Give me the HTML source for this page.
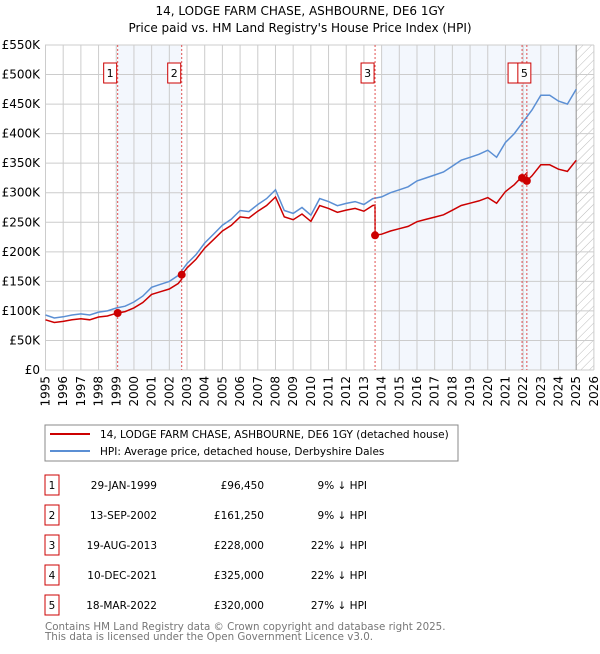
<!DOCTYPE html>
<html><head><meta charset="utf-8"><style>
body{margin:0;background:#fff;font-family:"DejaVu Sans","Liberation Sans",sans-serif;}
svg text{font-family:"DejaVu Sans","Liberation Sans",sans-serif;}
</style></head><body>
<svg id="chart" width="600" height="650" xmlns="http://www.w3.org/2000/svg">
<defs><pattern id="hatch" width="6" height="6" patternUnits="userSpaceOnUse" patternTransform="rotate(45)"><line x1="0" y1="0" x2="0" y2="6" stroke="#bbb" stroke-width="1"/></pattern></defs>
<text x="300" y="15" text-anchor="middle" font-size="12">14, LODGE FARM CHASE, ASHBOURNE, DE6 1GY</text>
<text x="300" y="32" text-anchor="middle" font-size="12">Price paid vs. HM Land Registry's House Price Index (HPI)</text>
<g id="bg"></g><g id="grid"></g><g id="axes"></g><g id="lines"></g><g id="marks"></g>
<rect x="45" y="425" width="413" height="36" fill="#fff" stroke="#888"/>
<line x1="50" y1="434" x2="90" y2="434" stroke="#cc0000" stroke-width="2"/>
<text x="100" y="438" font-size="10.5">14, LODGE FARM CHASE, ASHBOURNE, DE6 1GY (detached house)</text>
<line x1="50" y1="451" x2="90" y2="451" stroke="#5b8fd4" stroke-width="2"/>
<text x="100" y="455" font-size="10.5">HPI: Average price, detached house, Derbyshire Dales</text>
<g id="table"></g>
<text x="45" y="630" font-size="10.3" fill="#777">Contains HM Land Registry data © Crown copyright and database right 2025.</text>
<text x="45" y="640" font-size="10.3" fill="#777">This data is licensed under the Open Government Licence v3.0.</text>
</svg>
<script>
const years=[1995,1995.5,1996,1996.5,1997,1997.5,1998,1998.5,1999,1999.5,2000,2000.5,2001,2001.5,2002,2002.5,2003,2003.5,2004,2004.5,2005,2005.5,2006,2006.5,2007,2007.5,2008,2008.5,2009,2009.5,2010,2010.5,2011,2011.5,2012,2012.5,2013,2013.5,2014,2014.5,2015,2015.5,2016,2016.5,2017,2017.5,2018,2018.5,2019,2019.5,2020,2020.5,2021,2021.5,2022,2022.5,2023,2023.5,2024,2024.5,2025];
const hpi=[93,88,90,93,95,93,98,100,105,108,115,125,140,145,150,160,180,195,215,230,245,255,270,268,280,290,305,270,265,275,262,290,285,278,282,285,280,290,293,300,305,310,320,325,330,335,345,355,360,365,372,360,385,400,420,440,465,465,455,450,475];
const saleT=[1999.08,2002.7,2013.63,2021.94,2022.21];
const salePrice=[96450,161250,228000,325000,320000];
const saleLabels=["1","2","3","4","5"];
const saleDates=["29-JAN-1999","13-SEP-2002","19-AUG-2013","10-DEC-2021","18-MAR-2022"];
const salePriceText=["£96,450","£161,250","£228,000","£325,000","£320,000"];
const saleHpiText=["9% ↓ HPI","9% ↓ HPI","22% ↓ HPI","22% ↓ HPI","27% ↓ HPI"];
const yTicks=[0,50,100,150,200,250,300,350,400,450,500,550];
const xTicks=[1995,1996,1997,1998,1999,2000,2001,2002,2003,2004,2005,2006,2007,2008,2009,2010,2011,2012,2013,2014,2015,2016,2017,2018,2019,2020,2021,2022,2023,2024,2025,2026];
const NS="http://www.w3.org/2000/svg";
const X=t=>45.5+(t-1995)*17.69;
const Y=v=>370-v*0.5909;
function mk(p,tag,a){const e=document.createElementNS(NS,tag);for(const k in a)e.setAttribute(k,a[k]);document.getElementById(p).appendChild(e);return e;}
function hpiAt(t){for(let i=0;i<years.length-1;i++){if(t<=years[i+1]){const f=(t-years[i])/(years[i+1]-years[i]);return hpi[i]+f*(hpi[i+1]-hpi[i]);}}return hpi[hpi.length-1];}
let e;
e=mk('bg','rect',{x:45,y:45,width:550,height:325,fill:'#fff'});

e=mk('bg','rect',{x:X(saleT[0]),y:45,width:X(saleT[1])-X(saleT[0]),height:325,fill:'#eef3fc',opacity:0.7});

e=mk('bg','rect',{x:X(2014),y:45,width:X(2025)-X(2014),height:325,fill:'#eef3fc',opacity:0.7});

e=mk('bg','rect',{x:X(2025),y:45,width:X(2026)-X(2025),height:325,fill:'url(#hatch)'});

yTicks.forEach(v=>{
 e=mk('grid','line',{x1:45,x2:X(2026),y1:Y(v),y2:Y(v),stroke:'#ccc','stroke-width':1});
 
 e=mk('axes','text',{x:40,y:Y(v)+4,'text-anchor':'end','font-size':12});
 e.textContent=v===0?'£0':'£'+v+'K';
 
});
xTicks.forEach(t=>{
 e=mk('grid','line',{x1:X(t),x2:X(t),y1:45,y2:370,stroke:'#ccc','stroke-width':1});
 
 e=mk('axes','text',{x:0,y:0,'text-anchor':'end','font-size':12,transform:`translate(${X(t)+4},376) rotate(-90)`});
 e.textContent=t;
 
});
e=mk('grid','line',{x1:X(2025),x2:X(2025),y1:45,y2:370,stroke:'#999','stroke-width':1});

let d=years.map((t,i)=>(i?'L':'M')+X(t).toFixed(1)+','+Y(hpi[i]).toFixed(1)).join('');
e=mk('lines','path',{d:d,fill:'none',stroke:'#5b8fd4','stroke-width':1.5});

function ratioAt(t){let k=0;for(let i=0;i<saleT.length;i++)if(t>=saleT[i])k=i;return salePrice[k]/1000/hpiAt(saleT[k]);}
const pts=[];
const ts=years.slice();saleT.forEach(s=>{ts.push(s-0.001);ts.push(s);});ts.sort((a,b)=>a-b);
ts.forEach(t=>pts.push([X(t),Y(hpiAt(t)*ratioAt(t))]));
d=pts.map((p,i)=>(i?'L':'M')+p[0].toFixed(1)+','+p[1].toFixed(1)).join('');
e=mk('lines','path',{d:d,fill:'none',stroke:'#cc0000','stroke-width':1.5});

saleT.forEach((t,i)=>{
 e=mk('marks','line',{x1:X(t),x2:X(t),y1:45,y2:370,stroke:'#e05050','stroke-width':1,'stroke-dasharray':'2,2'});
 
 e=mk('marks','circle',{cx:X(t),cy:Y(salePrice[i]/1000),r:4,fill:'#cc0000'});
 
 const bx=i===4?X(t)-9:X(t)-14;
 e=mk('marks','rect',{x:bx,y:63,width:13,height:20,fill:'#fff',stroke:'#cc0000'});
 
 e=mk('marks','text',{x:bx+6.5,y:77,'text-anchor':'middle','font-size':11});
 e.textContent=i===3?'':saleLabels[i];
 
 const ry=485+i*30;
 e=mk('table','rect',{x:45,y:ry-10,width:14,height:20,fill:'#fff',stroke:'#cc0000'});
 
 e=mk('table','text',{x:52,y:ry+4,'text-anchor':'middle','font-size':10.5});e.textContent=saleLabels[i];
 
 e=mk('table','text',{x:157,y:ry+4,'text-anchor':'end','font-size':10.5});e.textContent=saleDates[i];
 
 e=mk('table','text',{x:264,y:ry+4,'text-anchor':'end','font-size':10.5});e.textContent=salePriceText[i];
 
 e=mk('table','text',{x:367,y:ry+4,'text-anchor':'end','font-size':10.5});e.textContent=saleHpiText[i];
 
});
</script>
</body></html>
